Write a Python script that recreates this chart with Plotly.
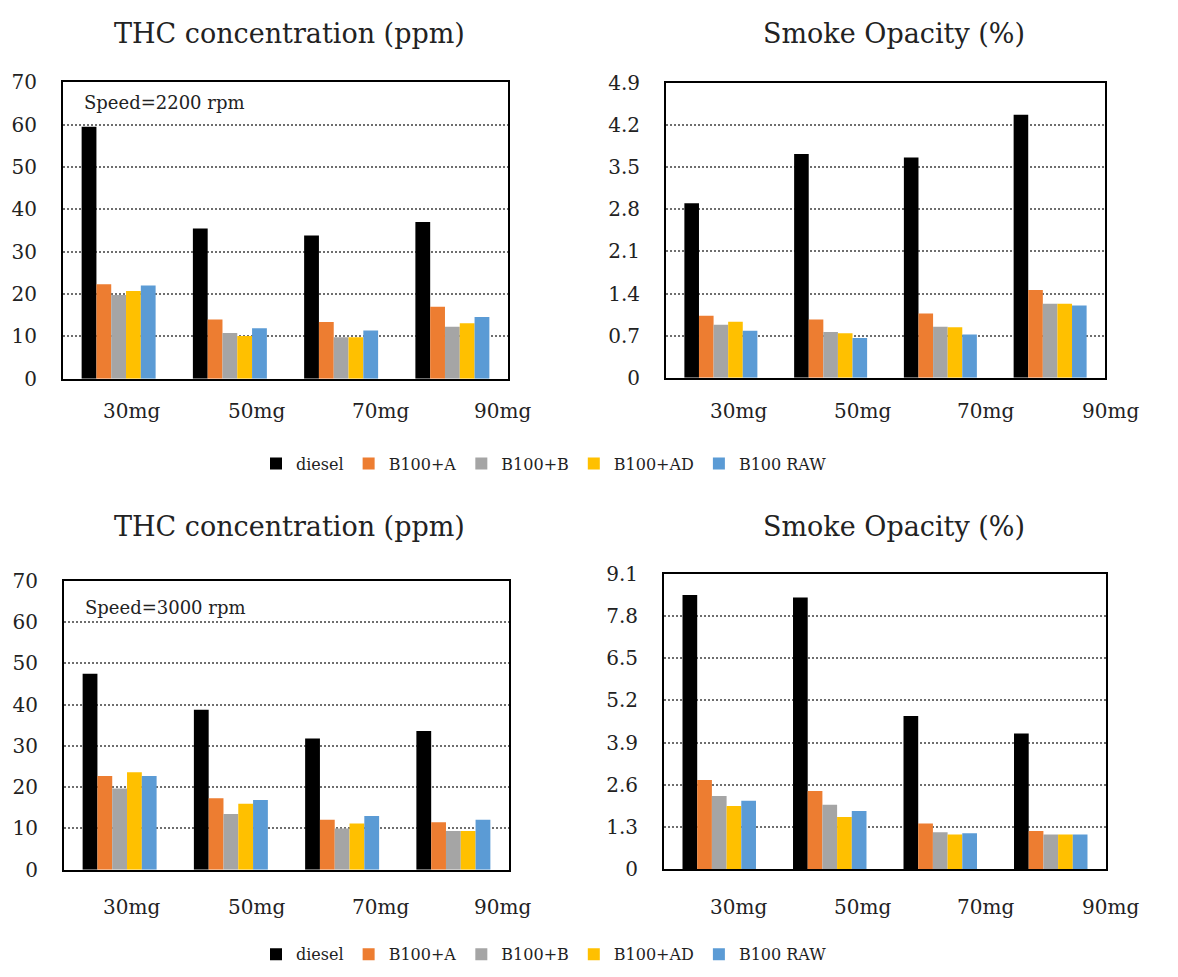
import plotly.graph_objects as go

W, H = 1178, 977

categories = ["30mg", "50mg", "70mg", "90mg"]
series_names = ["diesel", "B100+A", "B100+B", "B100+AD", "B100 RAW"]
series_colors = ["#000000", "#ED7D31", "#A5A5A5", "#FFC000", "#5B9BD5"]

# Speed = 2200 rpm
thc_2200 = {
    "diesel":   [59.5, 35.5, 33.8, 37.0],
    "B100+A":   [22.3, 14.0, 13.4, 17.0],
    "B100+B":   [19.8, 10.8, 9.8, 12.3],
    "B100+AD":  [20.7, 10.1, 9.8, 13.1],
    "B100 RAW": [22.0, 11.9, 11.4, 14.6],
}
smoke_2200 = {
    "diesel":   [2.90, 3.72, 3.66, 4.37],
    "B100+A":   [1.03, 0.97, 1.07, 1.46],
    "B100+B":   [0.88, 0.76, 0.85, 1.23],
    "B100+AD":  [0.93, 0.74, 0.84, 1.23],
    "B100 RAW": [0.78, 0.66, 0.72, 1.20],
}
# Speed = 3000 rpm
thc_3000 = {
    "diesel":   [47.5, 38.8, 31.8, 33.6],
    "B100+A":   [22.7, 17.3, 12.1, 11.5],
    "B100+B":   [19.7, 13.5, 10.0, 9.4],
    "B100+AD":  [23.6, 16.0, 11.2, 9.4],
    "B100 RAW": [22.7, 16.9, 13.0, 12.1],
}
smoke_3000 = {
    "diesel":   [8.44, 8.36, 4.72, 4.18],
    "B100+A":   [2.75, 2.41, 1.41, 1.18],
    "B100+B":   [2.26, 1.99, 1.14, 1.07],
    "B100+AD":  [1.95, 1.61, 1.07, 1.07],
    "B100 RAW": [2.11, 1.80, 1.11, 1.07],
}

thc_ticks = [0, 10, 20, 30, 40, 50, 60, 70]
thc_ticktext = ["0", "10", "20", "30", "40", "50", "60", "70"]
smoke_ticks_top = [0, 0.7, 1.4, 2.1, 2.8, 3.5, 4.2, 4.9]
smoke_ticktext_top = ["0", "0.7", "1.4", "2.1", "2.8", "3.5", "4.2", "4.9"]
smoke_ticks_bot = [0, 1.3, 2.6, 3.9, 5.2, 6.5, 7.8, 9.1]
smoke_ticktext_bot = ["0", "1.3", "2.6", "3.9", "5.2", "6.5", "7.8", "9.1"]

title_thc = "THC concentration (ppm)"
title_smoke = "Smoke Opacity (%)"
speed_labels = ["Speed=2200 rpm", "Speed=3000 rpm"]

FONT = "DejaVu Serif"
TXT = "#222222"


def px_x(x):
    return x / W


def px_y(y):
    return 1 - y / H


fig = go.Figure()

panels = [
    (thc_2200, "x", "y", "legend", True),
    (smoke_2200, "x2", "y2", "legend", False),
    (thc_3000, "x3", "y3", "legend2", True),
    (smoke_3000, "x4", "y4", "legend2", False),
]

for data, xa, ya, leg, show in panels:
    for name, col in zip(series_names, series_colors):
        fig.add_trace(go.Bar(
            x=categories, y=data[name], name=name,
            marker=dict(color=col, line=dict(width=0)),
            xaxis=xa, yaxis=ya, legend=leg, showlegend=show,
        ))

# plot-area boxes in pixels (left, top, right, bottom)
boxes = [
    (63, 72, 508, 376),
    (666, 72.7, 1105, 375),
    (64, 583.3, 509, 879.3),
    (664, 575.7, 1106, 879),
]
yranges = [(0, 70), (0, 4.9), (0, 70), (0, 9.1)]
yticks = [(thc_ticks, thc_ticktext), (smoke_ticks_top, smoke_ticktext_top),
          (thc_ticks, thc_ticktext), (smoke_ticks_bot, smoke_ticktext_bot)]

layout = dict(
    width=W, height=H,
    margin=dict(l=0, r=0, t=0, b=0),
    paper_bgcolor="white", plot_bgcolor="white",
    barmode="group", bargap=0.335, bargroupgap=0,
    font=dict(family=FONT, color=TXT, size=20),
)

for i, (box, yr, (tv, tt)) in enumerate(zip(boxes, yranges, yticks)):
    l, t, r, b = box
    sfx = "" if i == 0 else str(i + 1)
    layout["xaxis" + sfx] = dict(
        domain=[px_x(l), px_x(r)], anchor="y" + sfx,
        showline=True, mirror=True, linecolor="black", linewidth=2,
        showticklabels=False, ticks="", showgrid=False, zeroline=False,
        fixedrange=True,
    )
    layout["yaxis" + sfx] = dict(
        domain=[px_y(b), px_y(t)], anchor="x" + sfx,
        range=list(yr), tickvals=tv, ticktext=tt,
        showline=True, mirror=True, linecolor="black", linewidth=2,
        showgrid=True, gridcolor="#6e6e6e", gridwidth=2, griddash="2px,2px",
        zeroline=False, ticks="", ticklabelstandoff=20,
        tickfont=dict(size=20, color=TXT, family=FONT),
        fixedrange=True,
    )

annotations = []
for (cx, cy, txt) in [(289.5, 22, title_thc), (894, 22, title_smoke),
                      (289.5, 527, title_thc), (894, 527, title_smoke)]:
    annotations.append(dict(
        text=txt, x=px_x(cx), y=px_y(cy), xref="paper", yref="paper",
        xanchor="center", yanchor="middle", showarrow=False,
        font=dict(size=27, family=FONT, color=TXT),
    ))
for (lx, cy, txt) in [(82, 93, speed_labels[0]), (83, 610, speed_labels[1])]:
    annotations.append(dict(
        text=txt, x=px_x(lx), y=px_y(cy), xref="paper", yref="paper",
        xanchor="left", yanchor="middle", showarrow=False,
        font=dict(size=18, family=FONT, color=TXT),
    ))
# category labels (offset as in the original figure)
label_x_left = [131, 256, 380, 502]
label_x_right = [738, 862, 985, 1110]
for ly in [409, 918]:
    for xs in (label_x_left, label_x_right):
        for cx, cat in zip(xs, categories):
            annotations.append(dict(
                text=cat, x=px_x(cx), y=px_y(ly), xref="paper", yref="paper",
                xanchor="center", yanchor="middle", showarrow=False,
                font=dict(size=20, family=FONT, color=TXT),
            ))
layout["annotations"] = annotations

leg_common = dict(
    orientation="h", xanchor="center", yanchor="middle",
    font=dict(size=16, family=FONT, color=TXT),
    bgcolor="rgba(0,0,0,0)", itemclick=False, itemdoubleclick=False,
    traceorder="normal", itemwidth=30,
)
layout["legend"] = dict(x=px_x(544), y=px_y(463), **leg_common)
layout["legend2"] = dict(x=px_x(544), y=px_y(966), **leg_common)

fig.update_layout(**layout)
fig.write_html("out.html", config={"displayModeBar": False})
